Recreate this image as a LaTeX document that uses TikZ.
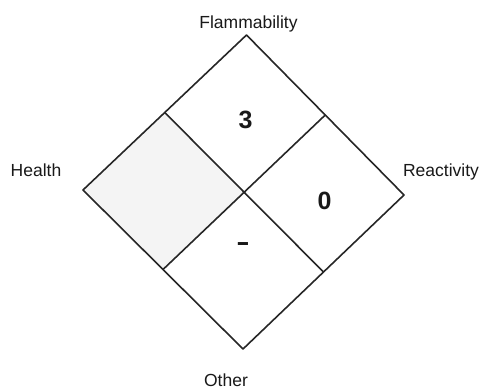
\documentclass[tikz,border=0pt]{standalone}
\usepackage{fontspec}
\setmainfont{Liberation Sans}
\usetikzlibrary{calc}
\begin{document}
\begin{tikzpicture}[x=1pt,y=-1pt,
  edge/.style={draw=black!85,line width=1.6pt,line join=round},
  lab/.style={anchor=base,inner sep=0pt,font=\fontsize{17.5}{20}\selectfont,text=black!90},
  num/.style={anchor=base,inner sep=0pt,font=\fontsize{25}{28}\selectfont\bfseries,text=black!90}]
\useasboundingbox[fill=white] (0,0) rectangle (484,391);
\coordinate (T) at (246.5,35);
\coordinate (R) at (404,195);
\coordinate (B) at (243,349);
\coordinate (L) at (83,190);
\coordinate (C) at (245,193);
\coordinate (TL) at ($(T)!0.5!(L)$);
\coordinate (BL) at ($(L)!0.5!(B)$);
\coordinate (TR) at ($(T)!0.5!(R)$);
\coordinate (BR) at ($(R)!0.5!(B)$);
\fill[gray!9] (L) -- (TL) -- (C) -- (BL) -- cycle;
\draw[edge] (T) -- (R) -- (B) -- (L) -- cycle;
\draw[edge] (TL) -- (BR);
\draw[edge] (BL) -- (TR);
\node[lab] (flam) at (248.5,28.3) {Flammability};
\node[lab] (health) at (36,176.3) {Health};
\node[lab] (react) at (441,176.3) {Reactivity};
\node[lab] (other) at (226,386.5) {Other};
\node[num] (n3) at (245.5,128) {3};
\node[num] (n0) at (324.5,209.5) {0};
\node[inner sep=0pt,font=\fontsize{25}{28}\selectfont\bfseries,text=black!90] (nd) at (243,247) {\scalebox{1.6}[1]{-}};
\end{tikzpicture}
\end{document}
